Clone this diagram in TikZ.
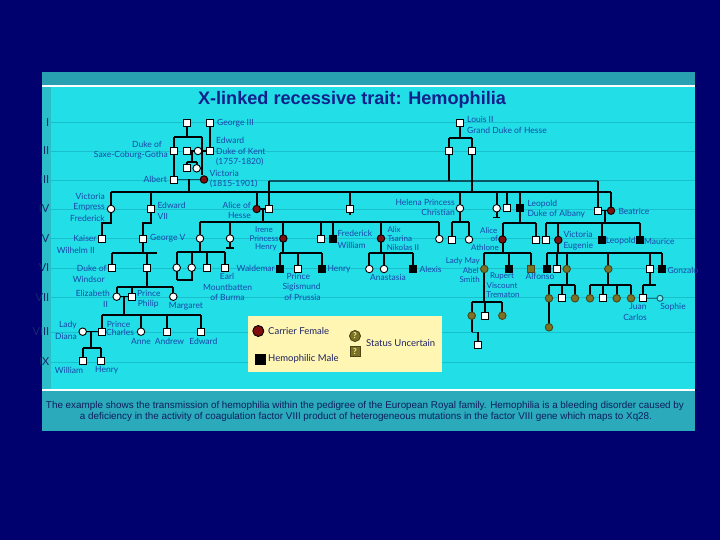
\documentclass[tikz,border=0pt]{standalone}
\usepackage{fontspec}
\setmainfont{Lato}
\newfontfamily\arialf{Liberation Sans}
\definecolor{navy}{RGB}{0,0,110}
\definecolor{cyanbg}{RGB}{34,222,230}
\definecolor{topbar}{RGB}{40,160,178}
\definecolor{strip}{RGB}{44,190,200}
\definecolor{capbg}{RGB}{42,170,186}
\definecolor{genline}{RGB}{24,192,204}
\definecolor{labblue}{RGB}{25,70,170}
\definecolor{titleblue}{RGB}{18,32,140}
\definecolor{capblue}{RGB}{15,30,95}
\definecolor{numblue}{RGB}{20,40,110}
\definecolor{legbg}{RGB}{255,246,180}
\definecolor{legtext}{RGB}{30,35,100}
\definecolor{carrier}{RGB}{128,14,14}
\definecolor{olive}{RGB}{124,114,36}
\definecolor{darkteal}{RGB}{10,85,95}
\pgfdeclarelayer{back}
\pgfdeclarelayer{lines}
\pgfsetlayers{back,lines,main}
\tikzset{
  sym/.style={draw=black, line width=0.9pt, inner sep=0pt, outer sep=0pt},
  msq/.style={sym, rectangle, minimum size=7pt, fill=white},
  hsq/.style={sym, rectangle, minimum size=7pt, fill=black},
  usq/.style={sym, rectangle, minimum size=7pt, fill=olive, draw=olive!60!black},
  fci/.style={sym, circle, minimum size=7.5pt, fill=white},
  cci/.style={sym, circle, minimum size=7.5pt, fill=carrier},
  uci/.style={sym, circle, minimum size=7.5pt, fill=olive, draw=olive!60!black},
  ped/.style={line width=2pt, black},
  mar/.style={line width=1.5pt, black},
  lab/.style={inner sep=0pt, text=labblue, font=\fontsize{8.5}{9}\selectfont},
  labs/.style={lab, font=\fontsize{8}{8.5}\selectfont},
  labw/.style={lab, anchor=west},
  labe/.style={lab, anchor=east},
  num/.style={inner sep=0pt, anchor=east, text=numblue, font=\fontsize{11}{12}\selectfont},
  legt/.style={inner sep=0pt, anchor=west, text=legtext, font=\fontsize{9.5}{10}\selectfont},
}
\newcommand\pdrop[2]{\draw[ped] (#1) -- (#1 |- 0,#2);}
\newcommand\pbar[3]{\draw[ped] (#1 |- 0,#3) -- (#2 |- 0,#3);}
\begin{document}
\begin{tikzpicture}[x=1pt,y=-1pt]
\useasboundingbox (0,0) rectangle (720,540);
\begin{pgfonlayer}{back}
\fill[navy] (0,0) rectangle (720,540);
\fill[cyanbg] (42,72) rectangle (695,431);
\fill[topbar] (42,72) rectangle (695,85);
\fill[white] (42,85) rectangle (695,87);
\fill[strip] (42,87) rectangle (51,389);
\fill[white] (42,389) rectangle (695,391);
\fill[capbg] (42,391) rectangle (695,431);
\foreach \y in {122.7,151,180,209,238.5,268,297.5,332,362}
  \draw[genline, line width=0.8pt] (51,\y) -- (695,\y);
\end{pgfonlayer}

% title
\node (title) at (352,100) {\resizebox{308pt}{!}{\arialf\bfseries\color{titleblue}X-linked recessive trait: Hemophilia}};

% generation numerals
\node[num] (n1) at (49.5,122.7) {I};
\node[num] (n2) at (49.5,151) {II};
\node[num] (n3) at (49.5,180) {III};
\node[num] (n4) at (49.5,209) {IV};
\node[num] (n5) at (49.5,238.5) {V};
\node[num] (n6) at (49.5,268) {VI};
\node[num] (n7) at (49.5,297.5) {VII};
\node[num] (n8) at (49.5,332) {VIII};
\node[num] (n9) at (49.5,362) {IX};

% ---------- Gen I ----------
\node[msq] (fr) at (186.7,122.7) {};
\node[msq] (g3) at (210,122.7) {};
\node[msq] (l2) at (460,123.3) {};
% ---------- Gen II ----------
\node[msq] (dscg) at (174,151) {};
\node[msq] (g2a) at (186.7,151) {};
\node[fci] (g2b) at (198,151) {};
\node[msq] (edk) at (210,151) {};
\node[msq] (hs1) at (449.3,151) {};
\node[msq] (hs2) at (472,151) {};
\node[msq] (g2c) at (186.7,168.3) {};
\node[fci] (g2d) at (196.7,168.3) {};
% ---------- Gen III ----------
\node[msq] (alb) at (174,179.5) {};
\node[cci] (vic) at (204,179.5) {};
% ---------- Gen IV ----------
\node[fci] (vef) at (111,209) {};
\node[msq] (e7) at (150.7,209) {};
\node[cci] (aoh) at (256.7,209) {};
\node[msq] (l4) at (269,209) {};
\node[msq] (alf) at (350,209) {};
\node[fci] (hpc) at (460,208.3) {};
\node[fci] (c4a) at (496.7,208.3) {};
\node[msq] (s4b) at (506.7,208.3) {};
\node[hsq] (leo) at (520,208.3) {};
\node[msq] (hob) at (598.3,210.7) {};
\node[cci] (bea) at (611,210.7) {};
% ---------- Gen V ----------
\node[msq] (kw) at (102.3,238.5) {};
\node[msq] (g5) at (142.7,238.5) {};
\node[fci] (voh) at (200,238.5) {};
\node[fci] (c5a) at (230,238.5) {};
\node[cci] (ire) at (283.3,238.5) {};
\node[msq] (s5a) at (320.7,238.5) {};
\node[hsq] (fw) at (333.3,238.5) {};
\node[cci] (alx) at (381,238.5) {};
\node[fci] (c5b) at (439.3,239) {};
\node[msq] (h5a) at (451.7,239.5) {};
\node[fci] (h5b) at (469,239.5) {};
\node[cci] (aoa) at (502.5,239.5) {};
\node[msq] (l5b) at (536,239.5) {};
\node[msq] (b5a) at (546,240) {};
\node[cci] (veu) at (558.3,240) {};
\node[hsq] (leo2) at (601.7,240) {};
\node[hsq] (mau) at (640,240) {};
% ---------- Gen VI ----------
\node[msq] (dow) at (111.7,267.7) {};
\node[msq] (g6) at (146.7,267.7) {};
\node[fci] (aob) at (176.7,267.7) {};
\node[fci] (lou) at (191.7,267.7) {};
\node[msq] (geo) at (206.7,267.7) {};
\node[msq] (emb) at (225,267.7) {};
\node[hsq] (wal) at (280,269) {};
\node[msq] (sig) at (298.3,269) {};
\node[hsq] (hen) at (321.7,269) {};
\node[fci] (ana1) at (369.3,269) {};
\node[fci] (ana2) at (384,269) {};
\node[hsq] (alxs) at (413.3,269) {};
\node[uci] (lms) at (484.3,269) {};
\node[hsq] (rup) at (509,269) {};
\node[usq] (mau2) at (531,269) {};
\node[hsq] (afs) at (547,269) {};
\node[msq] (jai) at (556.7,269) {};
\node[uci] (bz) at (566.7,269) {};
\node[uci] (mc) at (608.3,269) {};
\node[msq] (jua) at (650,269) {};
\node[hsq] (gon) at (661.7,269) {};
% ---------- Gen VII ----------
\node[fci] (eli) at (116.7,296.7) {};
\node[msq] (phi) at (131.7,296.7) {};
\node[fci] (mar) at (173.3,296.7) {};
\node[uci] (bz1) at (549,298.3) {};
\node[msq] (bz2) at (561.7,298.3) {};
\node[uci] (bz3) at (575,298.3) {};
\node[uci] (mc1) at (590,298.3) {};
\node[msq] (mc2) at (603.3,298.3) {};
\node[uci] (mc3) at (616.7,298.3) {};
\node[uci] (mc4) at (631,298.3) {};
\node[msq] (jc) at (643.3,298.3) {};
\node[sym, circle, minimum size=6pt, draw=darkteal, fill=cyanbg!60!white] (sop) at (660,298.3) {};
\node[uci] (lm1) at (471.7,315.7) {};
\node[msq] (lm2) at (485,315.7) {};
\node[uci] (lm3) at (502.3,315.7) {};
% ---------- Gen VIII ----------
\node[fci] (dia) at (82.7,331.7) {};
\node[msq] (cha) at (102,331.7) {};
\node[fci] (ann) at (141,331.7) {};
\node[msq] (andr) at (166.7,331.7) {};
\node[msq] (edw) at (201,331.7) {};
\node[uci] (bz4) at (549,327.3) {};
\node[msq] (lm4) at (478.3,345) {};
% ---------- Gen IX ----------
\node[msq] (wil) at (82.7,360.7) {};
\node[msq] (hry) at (101,360.7) {};

\begin{pgfonlayer}{lines}
% top families
\draw[ped] (fr) -- (fr |- 0,136.7);
\draw[ped] (174,136.7) -- (202,136.7);
\draw[ped] (174,136.7) -- (alb);
\draw[ped] (202,136.7) -- (202,175);
\draw[ped] (g3) -- (edk);
\draw[mar] (g2a) -- (edk);
\draw[ped] (191.7,151) -- (191.7,161.7);
\pbar{g2c}{g2d}{161.7}
\pdrop{g2c}{161.7} \pdrop{g2d}{161.7}
\draw[mar, darkteal] (alb) -- (vic);
\draw[ped] (188.5,179.5) -- (188.5,192.5);
% Victoria's children
\pbar{vef}{bea}{192.5}
\pdrop{vef}{192.5} \pdrop{e7}{192.5} \pdrop{aoh}{192.5} \pdrop{alf}{192.5}
\pdrop{hpc}{192.5} \pdrop{c4a}{192.5} \pdrop{s4b}{192.5} \pdrop{leo}{192.5} \pdrop{bea}{192.5}
\draw[ped] (alf) -- (350,215.5);
\draw[ped] (c4a) -- (496.7,217);
\draw[line width=1.3pt] (493,217.5) -- (500.4,217.5);
% Louis II of Hesse
\draw[ped] (l2) -- (460,137.7);
\pbar{hs1}{hs2}{137.7}
\pdrop{hs1}{137.7} \pdrop{hs2}{137.7}
\draw[mar, darkteal] (l4 |- 0,181) -- (hob |- 0,181);
\pdrop{hs1}{181} \pdrop{hs2}{192.5} \pdrop{l4}{181} \pdrop{hob}{181}
% Alice of Hesse
\draw[mar] (aoh) -- (l4);
\draw[ped] (263,209) -- (263,222);
\pbar{voh}{c5b}{222}
\pdrop{voh}{222} \pdrop{c5a}{222} \pdrop{ire}{222} \pdrop{s5a}{222} \pdrop{fw}{222} \pdrop{alx}{222} \pdrop{c5b}{222}
\draw[ped] (c5a) -- (230,247.5);
\draw[line width=1.3pt] (226.3,248) -- (233.7,248);
% Empress Frederick, Edward VII
\draw[ped] (vef) -- (111,223) -- (kw |- 0,223) -- (kw);
\draw[ped] (e7) -- (150.7,223) -- (g5 |- 0,223) -- (g5);
% Helena
\pdrop{hpc}{222}
\pbar{h5a}{h5b}{222}
\pdrop{h5a}{222} \pdrop{h5b}{222}
% Leopold
\pdrop{leo}{223}
\pbar{aoa}{l5b}{223}
\pdrop{aoa}{223} \pdrop{l5b}{223}
% Beatrice
\draw[mar] (hob) -- (bea);
\draw[ped] (604.7,210.7) -- (604.7,223);
\pbar{b5a}{mau}{223}
\pdrop{b5a}{223} \pdrop{veu}{223} \pdrop{leo2}{223} \pdrop{mau}{223}
% George V
\pdrop{g5}{252.7}
\draw[ped] (dow |- 0,252.7) -- (157.3,252.7);
\pdrop{dow}{252.7} \pdrop{g6}{252.7}
% Victoria of Hesse
\pdrop{voh}{251.7}
\pbar{aob}{emb}{251.7}
\pdrop{aob}{251.7} \pdrop{lou}{251.7} \pdrop{geo}{251.7} \pdrop{emb}{251.7}
\draw[ped] (aob) -- (176.7,280);
\draw[ped] (lou) -- (191.7,280) -- (176.7,280);
% Irene
\pdrop{ire}{252.7}
\pbar{wal}{hen}{252.7}
\pdrop{wal}{252.7} \pdrop{sig}{252.7} \pdrop{hen}{252.7}
% Alix
\pdrop{alx}{252.7}
\pbar{ana1}{alxs}{252.7}
\pdrop{ana1}{252.7} \pdrop{ana2}{252.7} \pdrop{alxs}{252.7}
% Alice of Athlone
\pdrop{aoa}{252.7}
\pbar{lms}{mau2}{252.7}
\pdrop{lms}{252.7} \pdrop{rup}{252.7} \pdrop{mau2}{252.7}
% Victoria Eugenie
\pdrop{veu}{252.7}
\pbar{afs}{gon}{252.7}
\pdrop{afs}{252.7} \pdrop{jai}{252.7} \pdrop{bz}{252.7} \pdrop{mc}{252.7} \pdrop{jua}{252.7} \pdrop{gon}{252.7}
% George VI
\pdrop{g6}{287}
\pbar{eli}{mar}{287}
\pdrop{eli}{287} \pdrop{phi}{287} \pdrop{mar}{287}
\draw[mar] (eli) -- (phi);
\draw[ped] (124.2,296.7) -- (124.2,315);
\pbar{cha}{edw}{315}
\pdrop{cha}{315} \pdrop{ann}{315} \pdrop{andr}{315} \pdrop{edw}{315}
\draw[mar] (dia) -- (cha);
\draw[ped] (90.7,331.7) -- (90.7,348.3);
\pbar{wil}{hry}{348.3}
\pdrop{wil}{348.3} \pdrop{hry}{348.3}
% Lady May
\pdrop{lms}{302.3}
\pbar{lm1}{lm3}{302.3}
\pdrop{lm1}{302.3} \pdrop{lm2}{302.3} \pdrop{lm3}{302.3}
\draw[ped] (lm1) -- (471.7,332.3);
\draw[mar, darkteal] (471.7,332.3) -- (lm4 |- 0,332.3);
\draw[ped] (lm4 |- 0,332.3) -- (lm4);
% Beatriz, Maria Cristina, Juan
\pdrop{bz}{285}
\pbar{bz1}{bz3}{285}
\pdrop{bz1}{285} \pdrop{bz2}{285} \pdrop{bz3}{285}
\draw[ped] (bz1) -- (bz4);
\pdrop{mc}{285}
\pbar{mc1}{mc4}{285}
\pdrop{mc1}{285} \pdrop{mc2}{285} \pdrop{mc3}{285} \pdrop{mc4}{285}
\pdrop{jua}{285}
\draw[ped] (jc |- 0,285) -- (656,285);
\pdrop{jc}{285}
\draw[mar, darkteal!70!cyanbg] (jc) -- (sop);
\end{pgfonlayer}

% ---------- labels ----------
\node[labw] (t1) at (217,122.7) {George III};
\node[labe] (t2) at (162,144) {Duke of};
\node[labe] (t3) at (168,155) {Saxe-Coburg-Gotha};
\node[labw] (t4) at (216,140.7) {Edward};
\node[labw] (t5) at (216,151) {Duke of Kent};
\node[labw] (t6) at (216,161.7) {(1757-1820)};
\node[labw] (t7) at (209.5,173.3) {Victoria};
\node[labw] (t8) at (210,184) {(1815-1901)};
\node[labe] (t9) at (167,179.5) {Albert};
\node[labw] (t10) at (467,119.3) {Louis II};
\node[labw] (t11) at (467,130) {Grand Duke of Hesse};
\node[labe] (t12) at (105,196) {Victoria};
\node[labe] (t13) at (105,206.7) {Empress};
\node[labe] (t14) at (105,218.3) {Frederick};
\node[labw] (t15) at (157.3,205.7) {Edward};
\node[labw] (t16) at (157.3,216.7) {VII};
\node[labe] (t17) at (251,205.7) {Alice of};
\node[labe] (t18) at (251,215.7) {Hesse};
\node[labe] (t19) at (455,202.3) {Helena Princess};
\node[labe] (t20) at (455,212.7) {Christian};
\node[labw] (t21) at (527.3,204) {Leopold};
\node[labw] (t22) at (527.3,214) {Duke of Albany};
\node[labw] (t23) at (618.3,211.3) {Beatrice};
\node[labe] (t24) at (96.7,238.3) {Kaiser};
\node[labe] (t25) at (95,250) {Wilhelm II};
\node[labw] (t26) at (150,238.3) {George V};
\node[labs] (t27) at (264,229.6) {Irene};
\node[labs] (t28) at (264,238.4) {Princess};
\node[labs] (t29) at (266,247.2) {Henry};
\node[labw] (t30) at (337.3,233.3) {Frederick};
\node[labw] (t31) at (337.3,245) {William};
\node[labs, anchor=west] (t32) at (387.3,229.3) {Alix};
\node[labs, anchor=west] (t33) at (387.3,238.3) {Tsarina};
\node[labs, anchor=west] (t34) at (386.7,247.2) {Nikolas II};
\node[labs, anchor=east] (t35) at (497.5,230.4) {Alice};
\node[labs, anchor=east] (t36) at (498,239.1) {of};
\node[labs, anchor=east] (t37) at (499,247.4) {Athlone};
\node[labw] (t38) at (563.3,234.3) {Victoria};
\node[labw] (t39) at (563.3,246) {Eugenie};
\node[labw] (t40) at (605.7,241) {Leopold};
\node[labw] (t41) at (644,241) {Maurice};
\node[labe] (t42) at (106.7,268.3) {Duke of};
\node[labe] (t43) at (105,279) {Windsor};
\node[labe] (t44) at (275,268.3) {Waldemar};
\node[lab] (t45) at (227,276) {Earl};
\node[lab] (t46) at (227.5,287.3) {Mountbatten};
\node[lab] (t47) at (227.5,297.3) {of Burma};
\node[lab] (t48) at (298.3,276.7) {Prince};
\node[lab] (t49) at (301.5,287.3) {Sigismund};
\node[lab] (t50) at (302.5,297.3) {of Prussia};
\node[labw] (t51) at (327.3,269.3) {Henry};
\node[lab] (t52) at (388,277.3) {Anastasia};
\node[labw] (t53) at (419.3,269.3) {Alexis};
\node[labs, anchor=east] (t54) at (480,261) {Lady May};
\node[labs, anchor=east] (t55) at (479,270.5) {Abel};
\node[labs, anchor=east] (t56) at (480,280) {Smith};
\node[labs] (t57) at (502,276.7) {Rupert};
\node[labs] (t58) at (502,285.7) {Viscount};
\node[labs] (t59) at (503,294.7) {Trematon};
\node[lab] (t60) at (540,276) {Alfonso};
\node[labw] (t61) at (667.3,270) {Gonzalo};
\node[labe] (t62) at (110,293.3) {Elizabeth};
\node[lab] (t63) at (105.5,304.3) {II};
\node[labw] (t64) at (137,293.3) {Prince};
\node[labw] (t65) at (137.7,304.3) {Philip};
\node[lab] (t66) at (186,306) {Margaret};
\node[labe] (t67) at (77,325) {Lady};
\node[labe] (t68) at (77,336.7) {Diana};
\node[labw] (t69) at (106.7,324.3) {Prince};
\node[labw] (t70) at (106,332.7) {Charles};
\node[lab] (t71) at (141,341.7) {Anne};
\node[lab] (t72) at (169.5,341.7) {Andrew};
\node[lab] (t73) at (203.3,341.7) {Edward};
\node[lab] (t74) at (69,370) {William};
\node[lab] (t75) at (106.7,370) {Henry};
\node[lab] (t76) at (638,306.7) {Juan};
\node[lab] (t77) at (635,317.7) {Carlos};
\node[lab] (t78) at (673,306.7) {Sophie};

% ---------- legend ----------
\node[fill=legbg, minimum width=194pt, minimum height=55.7pt, inner sep=0pt] (leg) at (345.3,343.85) {};
\node[cci, minimum size=11pt] (lgc) at (258.3,331) {};
\node[hsq, minimum size=10pt] (lgh) at (260,359) {};
\node[uci, minimum size=11pt, text=legbg, font=\fontsize{8}{8}\selectfont\bfseries] (lgu1) at (355,336) {?};
\node[usq, minimum size=10pt, text=legbg, font=\fontsize{8}{8}\selectfont\bfseries] (lgu2) at (355,351.7) {?};
\node[legt] (lt1) at (268,331) {Carrier Female};
\node[legt] (lt2) at (268,359) {Hemophilic Male};
\node[legt] (lt3) at (366,343.3) {Status Uncertain};

% ---------- caption ----------
\node[inner sep=0pt, text=capblue] (cap1) at (365,405.5) {\resizebox{638pt}{!}{\arialf The example shows the transmission of hemophilia within the pedigree of the European Royal family. Hemophilia is a bleeding disorder caused by}};
\node[inner sep=0pt, text=capblue] (cap2) at (366,416.5) {\resizebox{572pt}{!}{\arialf a deficiency in the activity of coagulation factor VIII product of heterogeneous mutations in the factor VIII gene which maps to Xq28.}};
\end{tikzpicture}
\end{document}
